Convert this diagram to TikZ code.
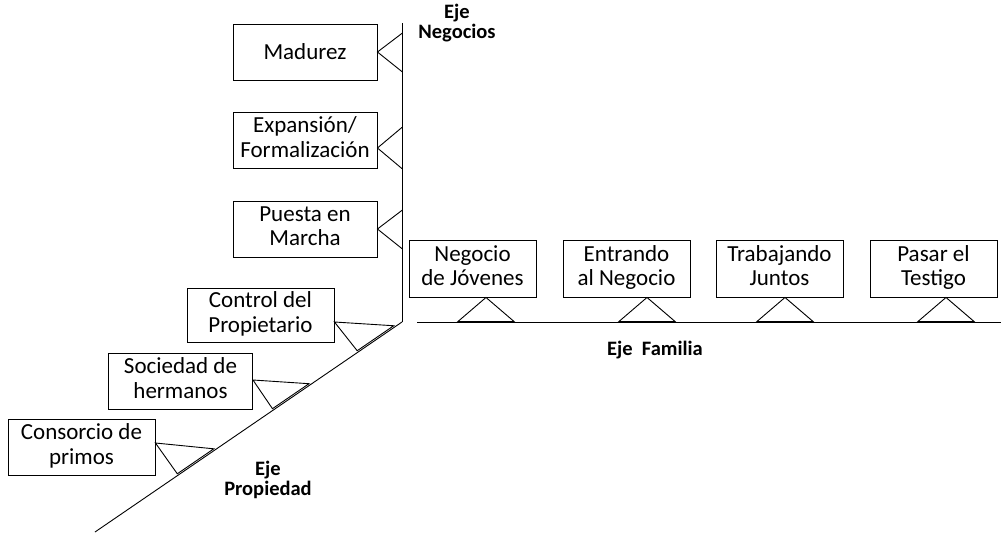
\documentclass[tikz,border=0pt]{standalone}
\usepackage{fontspec}
\setmainfont{Carlito}
\usepackage{tikz}
\usetikzlibrary{calc}
\newcommand{\cajaArriba}{\rule{0pt}{22pt}}
\newcommand{\cajaAbajo}{\rule[-6pt]{0pt}{6pt}}
\tikzstyle{Caja}=[draw,line width=0.9pt,minimum width=144pt,minimum height=56pt,inner sep=1pt,
align=center,font=\fontsize{23}{24.5}\selectfont,execute at begin node=\cajaArriba,
execute at end node=\cajaAbajo]
\tikzstyle{CajaUna}=[Caja,execute at begin node=\strut,execute at end node=\strut]
\tikzstyle{CajaFam}=[Caja,minimum width=127pt,minimum height=57pt]
\tikzstyle{EjeLinea}=[line width=0.9pt]
\tikzstyle{Triangulo}=[line width=0.9pt,line join=miter]
\tikzstyle{EjeTitulo}=[align=center,inner sep=0pt,font=\fontsize{20.5}{20}\selectfont\bfseries]
\begin{document}
\begin{tikzpicture}[x=1pt,y=-1pt]
        \useasboundingbox(0,0)rectangle(1005,533);
        \coordinate(negTop)at(402,23);
        \coordinate(origen)at(402,322);
        \coordinate(propFin)at(95,532);
        \coordinate(famIni)at(417,322);
        \coordinate(famFin)at(1001,322);
        \draw[EjeLinea](negTop)--(origen);
        \draw[EjeLinea](origen)--(propFin);
        \draw[EjeLinea](famIni)--(famFin);
        \node[CajaUna](mad)at(305,52){Madurez};
        \node[Caja](exp)at(305,140){Expansión/\\Formalización};
        \node[Caja](pue)at(305,229){Puesta en\\Marcha};
        \node[CajaFam](neg)at(472.5,268.5){Negocio\\de Jóvenes};
        \node[CajaFam](ent)at(626.5,268.5){Entrando\\al Negocio};
        \node[CajaFam](tra)at(779.5,268.5){Trabajando\\Juntos};
        \node[CajaFam](pas)at(933.5,268.5){Pasar el\\Testigo};
        \node[Caja,minimum width=147pt,minimum height=54pt](con)at(260.5,315){Control del\\Propietario};
        \node[Caja](soc)at(180.5,381){Sociedad de\\hermanos};
        \node[Caja,minimum width=147pt](pri)at(81.5,447){Consorcio de\\primos};
        \node[EjeTitulo](tNeg)at(457,23){Eje\\Negocios};
        \node[EjeTitulo](tFam)at(655,350){Eje\ \ Familia};
        \node[EjeTitulo](tProp)at(268,480){Eje\\Propiedad};
        \draw[Triangulo]($(mad.east)+(25,-19)$)--(mad.east)--($(mad.east)+(25,20)$);
        \draw[Triangulo]($(exp.east)+(25,-13)$)--($(exp.east)+(0,8)$)--($(exp.east)+(25,29)$);
        \draw[Triangulo]($(pue.east)+(25,-19)$)--(pue.east)--($(pue.east)+(25,20)$);
        \draw[Triangulo]($(neg.south)+(13.5,0)$)--++(-28,24)--++(56,0)--cycle;
        \draw[Triangulo]($(ent.south)+(20.5,0)$)--++(-28,24)--++(56,0)--cycle;
        \draw[Triangulo]($(tra.south)+(5.5,0)$)--++(-28,24)--++(56,0)--cycle;
        \draw[Triangulo]($(pas.south)+(12.5,0)$)--++(-28,24)--++(56,0)--cycle;
        \draw[Triangulo]($(con.east)+(0,7)$)--($(origen)!.024!(propFin)+(-0.9,-1.3)$)
            --($(origen)!.143!(propFin)+(-0.9,-1.3)$)--cycle;
        \draw[Triangulo]($(soc.east)+(0,-1)$)--($(origen)!.300!(propFin)+(-0.9,-1.3)$)
            --($(origen)!.419!(propFin)+(-0.9,-1.3)$)--cycle;
        \draw[Triangulo]($(pri.east)+(0,-4)$)--($(origen)!.610!(propFin)+(-0.9,-1.3)$)
            --($(origen)!.729!(propFin)+(-0.9,-1.3)$)--cycle;
    \end{tikzpicture}
\end{document}
